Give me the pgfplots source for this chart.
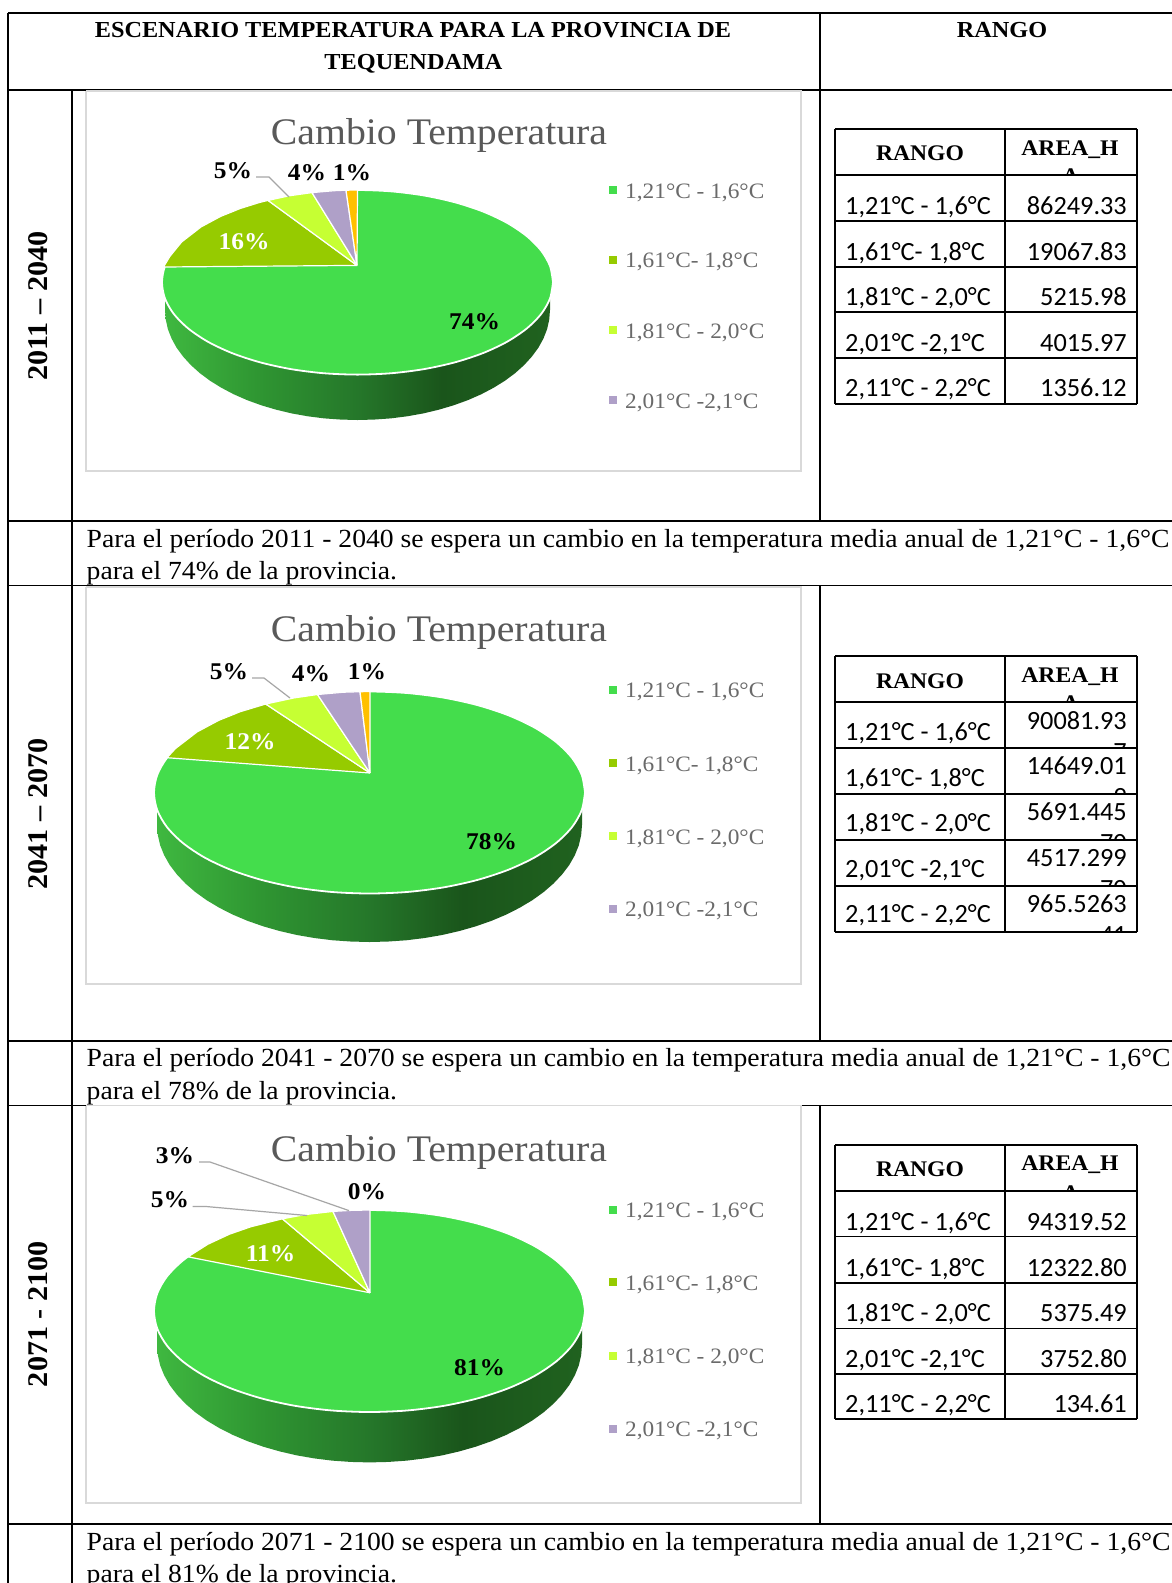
\documentclass[border=0pt]{standalone}
\usepackage{fontspec}
\usepackage{pgfplots}
\usepackage{pgfplotstable}
\pgfplotsset{compat=1.18}
\setmainfont[FakeStretch=1.06]{Liberation Serif}
\newfontfamily\calib{Carlito}
\definecolor{cMain}{HTML}{44DD4C}
\definecolor{cOl}{HTML}{96CB00}
\definecolor{cYe}{HTML}{C6FF33}
\definecolor{cLa}{HTML}{AFA0C8}
\definecolor{cOr}{HTML}{FFC000}
\definecolor{cBox}{HTML}{D9D9D9}
\definecolor{cTitle}{HTML}{595959}
\definecolor{cLeg}{HTML}{6A6A6A}
\definecolor{cLead}{HTML}{A6A6A6}
\definecolor{sA}{HTML}{3FB840}
\definecolor{sB}{HTML}{2F9632}
\definecolor{sC}{HTML}{25772A}
\definecolor{sD}{HTML}{1A551B}
\definecolor{sE}{HTML}{20621F}
\pgfdeclarehorizontalshading{sidegrad}{100bp}{color(0bp)=(sA);color(25bp)=(sA);color(37bp)=(sB);color(50bp)=(sC);color(61bp)=(sD);color(75bp)=(sE);color(100bp)=(sE)}
\pgfplotstableread{
u v
1.000 0.000
0.985 0.174
0.940 0.342
0.866 0.500
0.766 0.643
0.643 0.766
0.500 0.866
0.342 0.940
0.174 0.985
0.000 1.000
-0.174 0.985
-0.342 0.940
-0.500 0.866
-0.643 0.766
-0.766 0.643
-0.866 0.500
-0.940 0.342
-0.985 0.174
-1.000 0.000
-0.985 -0.174
-0.940 -0.342
-0.866 -0.500
-0.766 -0.643
-0.643 -0.766
-0.500 -0.866
-0.342 -0.940
-0.174 -0.985
0.000 -1.000
0.174 -0.985
0.342 -0.940
0.500 -0.866
0.643 -0.766
0.766 -0.643
0.866 -0.500
0.940 -0.342
0.985 -0.174
1.000 0.000
}\unitcircle
\pgfplotstableread{
u v
-1.000 -0.150
-1.000 0.000
-0.996 0.087
-0.985 0.174
-0.966 0.259
-0.940 0.342
-0.906 0.423
-0.866 0.500
-0.819 0.574
-0.766 0.643
-0.707 0.707
-0.643 0.766
-0.574 0.819
-0.500 0.866
-0.423 0.906
-0.342 0.940
-0.259 0.966
-0.174 0.985
-0.087 0.996
0.000 1.000
0.087 0.996
0.174 0.985
0.259 0.966
0.342 0.940
0.423 0.906
0.500 0.866
0.574 0.819
0.643 0.766
0.707 0.707
0.766 0.643
0.819 0.574
0.866 0.500
0.906 0.423
0.940 0.342
0.966 0.259
0.985 0.174
0.996 0.087
1.000 0.000
1.000 -0.150
}\lowerarc
% grid rules
\newcommand{\hl}[3]{\addplot[black,line width=1.8pt] coordinates {(#2,#1) (#3,#1)};}
\newcommand{\vl}[3]{\addplot[black,line width=1.8pt] coordinates {(#1,#2) (#1,#3)};}
\newcommand{\tl}[4]{\addplot[black,line width=1.7pt] coordinates {(#1,#2) (#3,#4)};}
% chart frame
\newcommand{\chartbox}[2]{\addplot[draw=cBox,line width=1.8pt,fill=white] coordinates {(86,#1) (801,#1) (801,#2) (86,#2) (86,#1)};}
% pie body: cx cy a b | side a' cy' b'
\newcommand{\piebody}[7]{%
 \addplot[shade,shading=sidegrad,draw=none] table[x expr={#1+#5*\thisrow{u}},y expr={#6+#7*\thisrow{v}}] {\lowerarc};
 \addplot[fill=cMain,draw=white,line width=1.8pt,smooth] table[x expr={#1+#3*\thisrow{u}},y expr={#2+#4*\thisrow{v}}] {\unitcircle};
}
\newcommand{\pwedge}[2]{\addplot[fill=#1,draw=white,line width=1.2pt] coordinates {#2};}
\newcommand{\legm}[3]{\addplot[only marks,mark=square*,mark size=3.4pt,mark options={fill=#1,draw=#1}] coordinates {(613,#2)};
 \node[anchor=base west,inner sep=0pt,text=cLeg,font=\fontsize{22}{24}\selectfont] at (axis cs:625,#2+8) {#3};}
\newcommand{\leadl}[1]{\addplot[cLead,line width=1.2pt] coordinates {#1};}
\newcommand{\plabel}[4]{\node[inner sep=0pt,text=#4,font=\fontsize{24}{24}\selectfont\bfseries] at (axis cs:#1,#2+1) {#3};}
\newcommand{\bodyt}[2]{\node[anchor=base west,inner sep=0pt,font=\fontsize{26.1}{26}\selectfont] at (axis cs:86.5,#1) {#2};}
\newcommand{\ctitle}[1]{\node[inner sep=0pt,text=cTitle,font=\fontsize{37.5}{37}\selectfont] at (axis cs:439,#1) {Cambio Temperatura};}
\newcommand{\vlab}[2]{\node[rotate=90,inner sep=0pt,font=\fontsize{28.5}{29}\selectfont\bfseries] at (axis cs:38.5,#1) {#2};}
% right-hand tables
\newcommand{\tgrid}[7]{%
 \tl{835}{#1}{1137}{#1}\tl{835}{#2}{1137}{#2}\tl{835}{#3}{1137}{#3}\tl{835}{#4}{1137}{#4}\tl{835}{#5}{1137}{#5}\tl{835}{#6}{1137}{#6}\tl{835}{#7}{1137}{#7}%
 \tl{835}{#1}{835}{#7}\tl{1004.7}{#1}{1004.7}{#7}\tl{1137}{#1}{1137}{#7}}
\newcommand{\theadr}[3]{%
 \node[anchor=base,inner sep=0pt,font=\fontsize{22.3}{24}\selectfont\bfseries] at (axis cs:920,#1) {RANGO};
 \node[anchor=base,inner sep=0pt,font=\fontsize{22.3}{24}\selectfont\bfseries] at (axis cs:1070,#2) {AREA\_H};
 \begin{scope}\clip (axis cs:1006,#2) rectangle (axis cs:1136,#3);
 \node[anchor=base,inner sep=0pt,font=\fontsize{22.3}{24}\selectfont\bfseries] at (axis cs:1070.7,#3+9) {A};
 \end{scope}}
\newcommand{\rl}[2]{\node[anchor=base west,inner sep=0pt,font=\calib\fontsize{26.3}{26}\selectfont] at (axis cs:845,#1) {#2};}
\newcommand{\rv}[2]{\node[anchor=base east,inner sep=0pt,font=\calib\fontsize{26.3}{26}\selectfont] at (axis cs:1127,#1) {#2};}
\newcommand{\rtail}[3]{\begin{scope}\clip (axis cs:1006,#1-30) rectangle (axis cs:1136,#2);
 \node[anchor=base east,inner sep=0pt,font=\calib\fontsize{26.3}{26}\selectfont] at (axis cs:1127,#1+31) {#3};\end{scope}}
\begin{document}
\begin{tikzpicture}
\begin{axis}[width=1172pt,height=1583pt,scale only axis,xmin=0,xmax=1172,ymin=0,ymax=1583,y dir=reverse,hide axis,clip=true]
% outer table
\hl{13}{8}{1172}\hl{89.6}{8}{1172}\hl{520.8}{8}{1172}\hl{585.5}{8}{1172}\hl{1040.7}{8}{1172}\hl{1105.5}{8}{1172}\hl{1524}{8}{1172}
\vl{8}{13}{1583}\vl{72}{89.6}{1583}
\vl{820}{13}{520.8}\vl{820}{585.5}{1040.7}\vl{820}{1105.5}{1524}
% ---------- chart 1
\chartbox{90.6}{470.6}
\piebody{357.5}{282.3}{195.5}{92.3}{192.5}{310}{110}
\pwedge{cOl}{(357,265.4) (163.5,267) (169.8,256.5) (181.6,242) (201.1,226.9) (220.6,216.4) (240.2,208.5) (259.7,202.4) (268,200.4) (357,265.4)}
\pwedge{cYe}{(357,265.4) (268,200.4) (289.1,195.8) (312,192.6) (357,265.4)}
\pwedge{cLa}{(357,265.4) (312,192.6) (334,190.7) (346,190.2) (357,265.4)}
\pwedge{cOr}{(357,265.4) (346,190.2) (357.5,190) (357,265.4)}
\leadl{(256,177) (269,177) (289,197)}
\legm{cMain}{190}{1,21°C - 1,6°C}
\legm{cOl}{259.5}{1,61°C- 1,8°C}
\legm{cYe}{330}{1,81°C - 2,0°C}
\legm{cLa}{400}{2,01°C -2,1°C}
% ---------- chart 2
\chartbox{586.6}{984}
\piebody{369.5}{792.5}{215.5}{101}{212.5}{825}{117}
\pwedge{cOl}{(370,773) (167,757.7) (175.5,748.5) (197.1,731.9) (218.6,720.4) (240.2,711.7) (265.7,704) (370,773)}
\pwedge{cYe}{(370,773) (265.7,704) (294.1,697.9) (317.5,694.5) (370,773)}
\pwedge{cLa}{(370,773) (317.5,694.5) (343.6,692.2) (360,691.7) (370,773)}
\pwedge{cOr}{(370,773) (360,691.7) (370,691.5) (370,773)}
\leadl{(252,678) (264,678) (290,698)}
\legm{cMain}{689.5}{1,21°C - 1,6°C}
\legm{cOl}{763}{1,61°C- 1,8°C}
\legm{cYe}{836}{1,81°C - 2,0°C}
\legm{cLa}{908.5}{2,01°C -2,1°C}
% ---------- chart 3
\chartbox{1105.5}{1502.7}
\piebody{369.5}{1311}{215.5}{101}{212.5}{1345}{117.4}
\pwedge{cOl}{(370,1292.8) (188,1256.8) (207.9,1244.2) (229.4,1234.2) (251,1226.7) (282.4,1218.8) (370,1292.8)}
\pwedge{cYe}{(370,1292.8) (282.4,1218.8) (304.9,1214.6) (333,1211.4) (370,1292.8)}
\pwedge{cLa}{(370,1292.8) (333,1211.4) (352.3,1210.3) (370,1210) (370,1292.8)}
\leadl{(199,1162) (210,1162) (349,1210.6)}
\leadl{(192.5,1206.4) (205,1206.4) (307,1215.5)}
\legm{cMain}{1209.4}{1,21°C - 1,6°C}
\legm{cOl}{1282}{1,61°C- 1,8°C}
\legm{cYe}{1355.7}{1,81°C - 2,0°C}
\legm{cLa}{1428.4}{2,01°C -2,1°C}
% ---------- right tables
\tgrid{129}{174.7}{220.7}{266.7}{312}{358}{403.7}
\tgrid{656}{701.7}{748}{794}{840}{886}{931.7}
\tgrid{1144.7}{1191}{1236.6}{1283}{1328.5}{1374}{1419}
% ---------- text
\node[anchor=base,inner sep=0pt,font=\fontsize{22.9}{25}\selectfont\bfseries] at (axis cs:413,37) {ESCENARIO TEMPERATURA PARA LA PROVINCIA DE};
\node[anchor=base,inner sep=0pt,font=\fontsize{22.9}{25}\selectfont\bfseries] at (axis cs:413.5,69.3) {TEQUENDAMA};
\node[anchor=base,inner sep=0pt,font=\fontsize{22.9}{25}\selectfont\bfseries] at (axis cs:1002,37) {RANGO};
\vlab{306}{2011 – 2040}
\vlab{814}{2041 – 2070}
\vlab{1314}{2071 - 2100}
\ctitle{135}\ctitle{632}\ctitle{1152}
\plabel{233}{169.6}{5\%}{black}\plabel{307}{171.6}{4\%}{black}\plabel{352}{171.6}{1\%}{black}\plabel{244}{241}{16\%}{white}\plabel{474.5}{321}{74\%}{black}
\plabel{229}{671}{5\%}{black}\plabel{311}{673}{4\%}{black}\plabel{367}{671}{1\%}{black}\plabel{250}{741}{12\%}{white}\plabel{491.6}{841}{78\%}{black}
\plabel{175}{1155}{3\%}{black}\plabel{170}{1199}{5\%}{black}\plabel{367}{1191}{0\%}{black}\plabel{270.5}{1253}{11\%}{white}\plabel{479.5}{1367}{81\%}{black}
\bodyt{547}{Para el período 2011 - 2040 se espera un cambio en la temperatura media anual de 1,21°C - 1,6°C}
\bodyt{579}{para el 74\% de la provincia.}
\bodyt{1066}{Para el período 2041 - 2070 se espera un cambio en la temperatura media anual de 1,21°C - 1,6°C}
\bodyt{1099}{para el 78\% de la provincia.}
\bodyt{1550}{Para el período 2071 - 2100 se espera un cambio en la temperatura media anual de 1,21°C - 1,6°C}
\bodyt{1582}{para el 81\% de la provincia.}
% table 1 text
\theadr{160}{155}{174.7}
\rl{214}{1,21°C - 1,6°C}\rv{214}{86249.33}
\rl{260}{1,61°C- 1,8°C}\rv{260}{19067.83}
\rl{305.7}{1,81°C - 2,0°C}\rv{305.7}{5215.98}
\rl{351.7}{2,01°C -2,1°C}\rv{351.7}{4015.97}
\rl{396.7}{2,11°C - 2,2°C}\rv{396.7}{1356.12}
% table 2 text
\theadr{688}{682}{701.7}
\rl{740.7}{1,21°C - 1,6°C}\rv{729}{90081.93}\rtail{729}{748}{7}
\rl{786.7}{1,61°C- 1,8°C}\rv{774}{14649.01}\rtail{774}{794}{9}
\rl{831.7}{1,81°C - 2,0°C}\rv{820}{5691.445}\rtail{820}{840}{70}
\rl{877}{2,01°C -2,1°C}\rv{866.7}{4517.299}\rtail{866.7}{886}{70}
\rl{922.7}{2,11°C - 2,2°C}\rv{912}{965.5263}\rtail{912}{931.7}{41}
% table 3 text
\theadr{1176}{1170.7}{1191}
\rl{1230}{1,21°C - 1,6°C}\rv{1230}{94319.52}
\rl{1276}{1,61°C- 1,8°C}\rv{1276}{12322.80}
\rl{1321.7}{1,81°C - 2,0°C}\rv{1321.7}{5375.49}
\rl{1367.4}{2,01°C -2,1°C}\rv{1367.4}{3752.80}
\rl{1412.4}{2,11°C - 2,2°C}\rv{1412.4}{134.61}
\end{axis}
\pgfresetboundingbox
\path[use as bounding box] (current axis.south west) rectangle (current axis.north east);
\end{tikzpicture}
\end{document}
